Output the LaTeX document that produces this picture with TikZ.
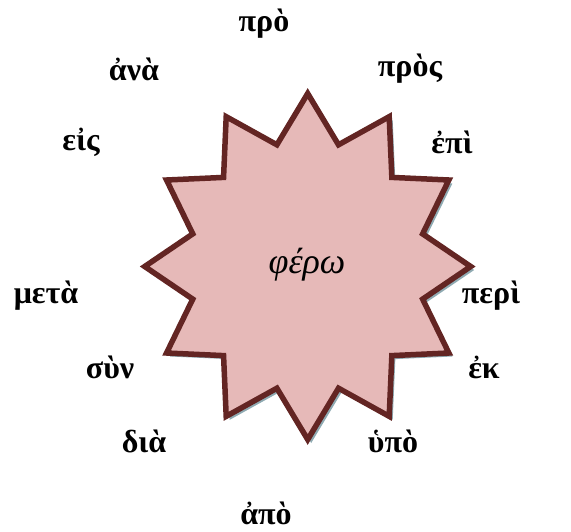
\documentclass[tikz,border=0pt]{standalone}
\usepackage{fontspec}
\setmainfont{Liberation Serif}
\definecolor{starfill}{HTML}{E6B9B8}
\definecolor{starline}{HTML}{632523}
\definecolor{starshadow}{HTML}{8FAAB2}
\begin{document}
\begin{tikzpicture}[x=1pt,y=-1pt,
  lbl/.style={font=\fontsize{32}{36}\selectfont\bfseries, inner sep=0pt},
  ctr/.style={font=\fontsize{36}{40}\selectfont\itshape, inner sep=0pt}]
\useasboundingbox (0,0) rectangle (571,531);
\def\cx{307.7}\def\cy{266.5}
\def\starpath#1#2{%
  (#1+0,#2-173)
  \foreach \i in {1,...,23}{
    \pgfextra{\pgfmathsetmacro\ang{90-15*\i}
      \ifodd\i \def\rx{119}\def\ry{126}\else\def\rx{163}\def\ry{173}\fi}
    -- ({#1+\rx*cos(\ang)},{#2-\ry*sin(\ang)})
  } -- cycle}
\fill[starshadow] \starpath{\cx+3.5}{\cy+3.5};
\filldraw[fill=starfill, draw=starline, line width=5.5pt, line join=miter] \starpath{\cx}{\cy};
\node[ctr] (c) at (307,265) {φέρω};
\node[lbl] (pro) at (264,24) {πρὸ};
\node[lbl] (ana) at (134,69) {ἀνὰ};
\node[lbl] (pros) at (410,69) {πρὸς};
\node[lbl] (eis) at (81,142) {εἰς};
\node[lbl] (epi) at (452,142) {ἐπὶ};
\node[lbl] (meta) at (46,296) {μετὰ};
\node[lbl] (peri) at (491,296) {περὶ};
\node[lbl] (syn) at (110,367) {σὺν};
\node[lbl] (ek) at (484,367) {ἐκ};
\node[lbl] (dia) at (144,441) {διὰ};
\node[lbl] (hypo) at (393,441) {ὑπὸ};
\node[lbl] (apo) at (266,513) {ἀπὸ};
\end{tikzpicture}
\end{document}
